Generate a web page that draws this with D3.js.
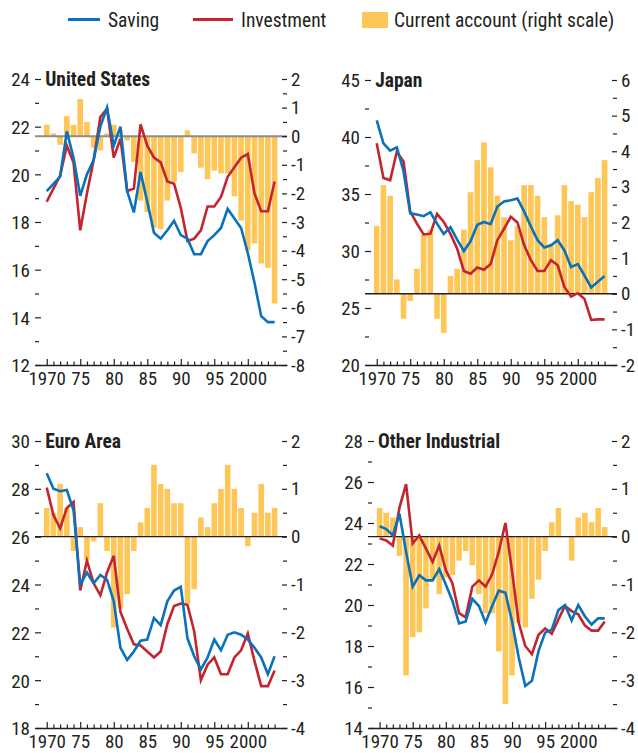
<!DOCTYPE html>
<html><head><meta charset="utf-8">
<script src="https://cdn.jsdelivr.net/npm/d3@7/dist/d3.min.js"></script>
<style>
body{margin:0;background:#fff}
svg text{font-family:"Liberation Sans Narrow","Arial Narrow","Roboto Condensed","DejaVu Sans Condensed",sans-serif;fill:#231f20}
</style></head><body><svg id="c" width="638" height="753"></svg>
<script>
// ---------- DATA ----------
const years = [1970,1971,1972,1973,1974,1975,1976,1977,1978,1979,1980,1981,1982,1983,1984,1985,1986,1987,1988,1989,1990,1991,1992,1993,1994,1995,1996,1997,1998,1999,2000,2001,2002,2003,2004];
const xTickYears = [1970,1975,1980,1985,1990,1995,2000];
const xTickLabels = ["1970","75","80","85","90","95","2000"];
const seriesNames = ["Saving","Investment","Current account (right scale)"];
const panelTitles = ["United States","Japan","Euro Area","Other Industrial"];

const usSaving = [19.3,19.6,19.9,21.8,20.7,19.1,20.0,20.6,22.0,22.8,21.2,22.0,19.3,18.4,20.1,18.85,17.55,17.3,17.65,18.05,17.45,17.3,16.65,16.65,17.2,17.45,17.75,18.55,18.15,17.75,16.7,15.45,14.05,13.8,13.8];
const usInvest = [18.85,19.4,19.95,21.2,20.5,17.65,19.2,20.6,22.4,22.75,20.7,21.5,19.3,19.4,22.1,21.2,20.7,20.5,19.7,19.6,18.6,17.2,17.3,17.65,18.65,18.65,19.05,19.9,20.3,20.7,20.85,19.2,18.45,18.45,19.7];
const usCA = [0.4,0.1,-0.3,0.7,0.4,1.3,0.5,-0.4,-0.5,0.1,0.4,0.2,-0.15,-0.9,-2.25,-2.65,-3.2,-3.25,-2.25,-1.6,-1.25,0.2,-0.6,-1.1,-1.5,-1.2,-1.3,-1.3,-2.1,-2.95,-4.0,-3.75,-4.45,-4.6,-5.85];

const japanSaving = [41.45,39.45,38.8,39.1,37.0,33.3,33.2,33.05,33.4,32.4,31.5,32.1,31.0,30.0,30.85,32.3,32.55,32.35,33.9,34.35,34.45,34.6,33.45,32.15,30.95,30.3,30.5,30.95,30.05,28.6,28.85,27.85,26.8,27.3,27.8];
const japanInvest = [39.45,36.4,36.2,38.7,37.85,33.45,32.4,31.45,31.5,33.25,32.55,31.5,30.2,28.25,28.0,28.55,28.35,28.85,30.95,31.95,33.0,32.5,30.5,29.2,28.25,28.25,29.2,28.75,26.85,26.0,26.3,25.8,23.95,24.0,24.0];
const japanCA = [1.9,3.05,2.75,0.4,-0.7,-0.2,0.7,1.65,1.8,-0.7,-1.1,0.5,0.7,1.8,2.85,3.75,4.25,3.55,2.75,2.15,1.5,1.9,3.05,3.05,2.75,2.15,1.4,2.2,3.05,2.6,2.5,2.15,2.85,3.25,3.75];

const euroSaving = [28.65,28.0,27.9,27.95,27.1,24.0,24.5,24.05,24.4,24.2,23.3,21.35,20.85,21.2,21.65,21.7,22.6,22.3,23.3,23.75,23.9,21.75,21.0,20.45,20.95,21.7,21.25,21.9,22.0,21.9,21.7,21.35,20.95,20.25,21.0];
const euroInvest = [28.05,26.9,26.35,27.2,27.45,23.75,25.0,24.05,23.55,24.5,25.2,22.85,22.15,21.5,21.45,21.2,20.95,21.2,22.35,23.1,23.2,23.15,22.05,20.0,20.65,20.95,20.25,20.25,20.95,21.25,21.95,20.8,19.75,19.75,20.4];
const euroCA = [0.6,0.5,1.1,0.6,-0.3,0.2,-0.5,-0.1,0.7,-0.3,-1.9,-1.5,-1.2,-0.3,0.3,0.6,1.5,1.1,1.0,0.7,0.7,-1.4,-1.1,0.4,0.2,0.7,1.0,1.5,1.0,0.6,-0.2,0.5,1.1,0.5,0.6];

const otherSaving = [23.85,23.7,23.4,24.45,22.6,20.9,21.45,21.2,21.2,21.75,21.0,20.2,19.1,19.2,20.3,19.95,19.15,19.95,20.7,20.6,19.2,17.45,16.05,16.3,17.75,18.65,18.8,19.75,20.0,19.25,20.0,19.45,19.05,19.35,19.35];
const otherInvest = [23.25,23.15,22.9,24.75,25.9,23.0,23.4,22.75,22.1,22.9,21.7,21.05,19.6,19.4,20.9,21.2,20.9,21.5,22.6,24.0,21.65,19.15,18.0,17.6,18.55,18.85,18.6,19.3,19.95,19.7,19.55,19.0,18.75,18.75,19.2];
const otherCA = [0.6,0.5,0.4,-0.4,-2.9,-2.1,-2.0,-1.5,-0.9,-1.2,-0.85,-0.8,-0.5,-0.3,-0.6,-1.2,-1.6,-1.6,-2.4,-3.5,-2.9,-1.8,-1.9,-1.3,-0.9,-0.3,0.3,0.6,0.0,-0.5,0.4,0.5,0.3,0.6,0.2];

// axis domains and ticks
const usLeftDomain = [12,24], usRightDomain = [-8,2];
const usLeftTicks = [12,14,16,18,20,22,24], usLeftMinor = [13,15,17,19,21,23];
const usRightTicks = [-8,-7,-6,-5,-4,-3,-2,-1,0,1,2], usRightMinor = [-7.5,-6.5,-5.5,-4.5,-3.5,-2.5,-1.5,-0.5,0.5,1.5];
const japanLeftDomain = [20,45], japanRightDomain = [-2,6];
const japanLeftTicks = [20,25,30,35,40,45], japanLeftMinor = [22.5,27.5,32.5,37.5,42.5];
const japanRightTicks = [-2,-1,0,1,2,3,4,5,6], japanRightMinor = [-1.5,-0.5,0.5,1.5,2.5,3.5,4.5,5.5];
const euroLeftDomain = [18,30], euroRightDomain = [-4,2];
const euroLeftTicks = [18,20,22,24,26,28,30], euroLeftMinor = [19,21,23,25,27,29];
const euroRightTicks = [-4,-3,-2,-1,0,1,2], euroRightMinor = [-3.5,-2.5,-1.5,-0.5,0.5,1.5];
const otherLeftDomain = [14,28], otherRightDomain = [-4,2];
const otherLeftTicks = [14,16,18,20,22,24,26,28], otherLeftMinor = [15,17,19,21,23,25,27];
const otherRightTicks = [-4,-3,-2,-1,0,1,2], otherRightMinor = [-3.5,-2.5,-1.5,-0.5,0.5,1.5];

// ---------- STYLE / LAYOUT ----------
const C_SAV = "#0a72ba", C_INV = "#c4242f", C_CA = "#fec557", C_TXT = "#231f20";
const FONT_TICK = 19, FONT_TITLE = 19.5, FONT_LEG = 19.5;
const svg = d3.select("#c");

const panels = [
  {title: panelTitles[0], sav: usSaving, inv: usInvest, ca: usCA, ld: usLeftDomain, rd: usRightDomain, lt: usLeftTicks, lm: usLeftMinor, rt: usRightTicks, rm: usRightMinor,
   box: {l: 35, r: 287, t: 79, b: 365}, zeroColor: "#8c8c88", zeroW: 2},
  {title: panelTitles[1], sav: japanSaving, inv: japanInvest, ca: japanCA, ld: japanLeftDomain, rd: japanRightDomain, lt: japanLeftTicks, lm: japanLeftMinor, rt: japanRightTicks, rm: japanRightMinor,
   box: {l: 365, r: 617, t: 80, b: 365}, zeroColor: "#231f20", zeroW: 1.3},
  {title: panelTitles[2], sav: euroSaving, inv: euroInvest, ca: euroCA, ld: euroLeftDomain, rd: euroRightDomain, lt: euroLeftTicks, lm: euroLeftMinor, rt: euroRightTicks, rm: euroRightMinor,
   box: {l: 35, r: 287, t: 441, b: 728}, zeroColor: "#231f20", zeroW: 1.3},
  {title: panelTitles[3], sav: otherSaving, inv: otherInvest, ca: otherCA, ld: otherLeftDomain, rd: otherRightDomain, lt: otherLeftTicks, lm: otherLeftMinor, rt: otherRightTicks, rm: otherRightMinor,
   box: {l: 368, r: 617, t: 441, b: 728}, zeroColor: "#231f20", zeroW: 1.3}
];

function styleAxis(g, fs) {
  g.select(".domain").remove();
  g.selectAll(".tick line").attr("stroke", C_TXT).attr("stroke-width", 1.2);
  g.selectAll(".tick text").attr("font-size", fs).attr("fill", C_TXT);
}

panels.forEach(p => {
  const B = p.box;
  const g = svg.append("g");
  const x = d3.scaleLinear().domain([1968.25, 2005.85]).range([B.l, B.r]);
  const yL = d3.scaleLinear().domain(p.ld).range([B.b, B.t]);
  const yR = d3.scaleLinear().domain(p.rd).range([B.b, B.t]);
  const step = x(1971) - x(1970);
  const bw = step - 1.1;

  // bars
  g.append("g").selectAll("rect").data(years.map((yr, i) => ({yr, v: p.ca[i]}))).join("rect")
    .attr("x", d => x(d.yr) - bw / 2)
    .attr("width", bw)
    .attr("y", d => Math.min(yR(d.v), yR(0)))
    .attr("height", d => Math.abs(yR(d.v) - yR(0)))
    .attr("fill", C_CA);

  // zero line
  g.append("line").attr("x1", B.l).attr("x2", B.r).attr("y1", yR(0)).attr("y2", yR(0))
    .attr("stroke", p.zeroColor).attr("stroke-width", p.zeroW);

  // lines
  const line = d3.line().x(d => x(d.yr)).y(d => yL(d.v));
  [[p.inv, C_INV], [p.sav, C_SAV]].forEach(([arr, col]) => {
    g.append("path").datum(years.map((yr, i) => ({yr, v: arr[i]})))
      .attr("d", line).attr("fill", "none").attr("stroke", col)
      .attr("stroke-width", 2.6).attr("stroke-linejoin", "miter");
  });

  // left axis
  const la = g.append("g").attr("transform", `translate(${B.l},0)`)
    .call(d3.axisLeft(yL).tickValues(p.lt).tickSizeInner(-6).tickSizeOuter(0).tickPadding(5).tickFormat(d3.format("d")));
  styleAxis(la, FONT_TICK);
  la.selectAll(".tick text").attr("dy", "0.36em");
  const lm = g.append("g").attr("transform", `translate(${B.l},0)`)
    .call(d3.axisLeft(yL).tickValues(p.lm).tickSizeInner(-4).tickSizeOuter(0).tickFormat(""));
  styleAxis(lm, FONT_TICK);

  // right axis
  const ra = g.append("g").attr("transform", `translate(${B.r},0)`)
    .call(d3.axisRight(yR).tickValues(p.rt).tickSizeInner(-5).tickSizeOuter(0).tickPadding(4).tickFormat(d => d < 0 ? "-" + Math.abs(d) : String(d)));
  styleAxis(ra, FONT_TICK);
  const rmn = g.append("g").attr("transform", `translate(${B.r},0)`)
    .call(d3.axisRight(yR).tickValues(p.rm).tickSizeInner(-4).tickSizeOuter(0).tickFormat(""));
  styleAxis(rmn, FONT_TICK);

  // x axis
  const xa = g.append("g").attr("transform", `translate(0,${B.b})`)
    .call(d3.axisBottom(x).tickValues(xTickYears).tickSizeInner(-6).tickSizeOuter(0).tickPadding(7)
      .tickFormat((d, i) => xTickLabels[i]));
  xa.select(".domain").attr("stroke", C_TXT).attr("stroke-width", 1.3);
  xa.selectAll(".tick line").attr("stroke", C_TXT).attr("stroke-width", 1.2);
  xa.selectAll(".tick text").attr("font-size", FONT_TICK).attr("fill", C_TXT);
  const xm = g.append("g").attr("transform", `translate(0,${B.b})`)
    .call(d3.axisBottom(x).tickValues(years.filter(y => !xTickYears.includes(y))).tickSizeInner(-3.5).tickSizeOuter(0).tickFormat(""));
  xm.select(".domain").remove();
  xm.selectAll(".tick line").attr("stroke", C_TXT).attr("stroke-width", 1.2);

  // title
  g.append("text").attr("x", x(1970) - 1.5).attr("y", B.t + 7)
    .attr("font-size", FONT_TITLE).attr("font-weight", "bold").text(p.title);
});

// legend
const leg = svg.append("g");
leg.append("line").attr("x1", 68).attr("x2", 100).attr("y1", 19.5).attr("y2", 19.5).attr("stroke", C_SAV).attr("stroke-width", 3);
leg.append("text").attr("x", 108).attr("y", 27).attr("font-size", FONT_LEG).text(seriesNames[0]);
leg.append("line").attr("x1", 193).attr("x2", 233).attr("y1", 19.5).attr("y2", 19.5).attr("stroke", C_INV).attr("stroke-width", 3);
leg.append("text").attr("x", 241).attr("y", 27).attr("font-size", FONT_LEG).text(seriesNames[1]);
leg.append("rect").attr("x", 362).attr("y", 12).attr("width", 26).attr("height", 16).attr("fill", C_CA);
leg.append("text").attr("x", 394).attr("y", 27).attr("font-size", FONT_LEG).text(seriesNames[2]);
</script></body></html>
